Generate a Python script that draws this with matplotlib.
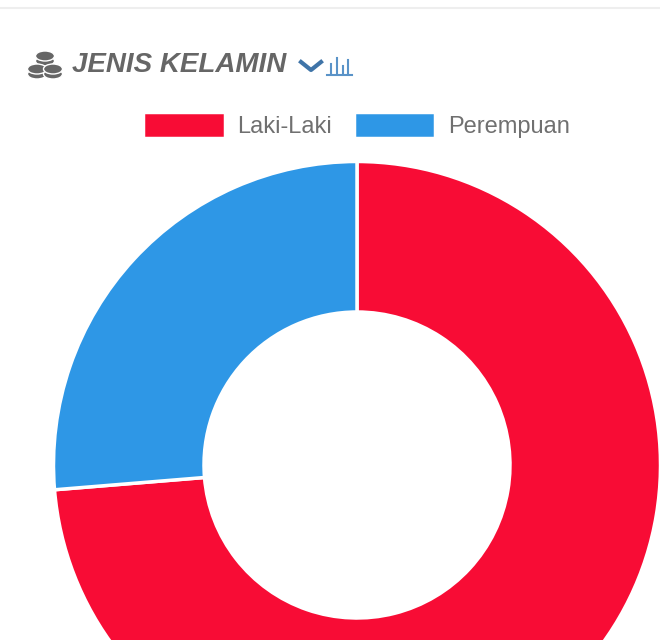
import matplotlib
matplotlib.use('Agg')
import matplotlib.pyplot as plt
from matplotlib.patches import Ellipse

labels = ['Laki-Laki', 'Perempuan']
values = [73.7, 26.3]
colors = ['#f80c35', '#2e97e6']
title = 'JENIS KELAMIN'

plt.rcParams['font.family'] = ['Liberation Sans', 'DejaVu Sans']

fig = plt.figure(figsize=(6.6, 6.4), dpi=100)
# axes cover the whole figure, units are pixels from the bottom left
ax = fig.add_axes([0, 0, 1, 1])
ax.set_xlim(0, 660)
ax.set_ylim(0, 640)
ax.set_aspect('equal')
ax.axis('off')

wedges, _ = ax.pie(
    values, colors=colors, startangle=90, counterclock=False,
    center=(357, 175), radius=303.5, frame=True,
    wedgeprops={'width': 150.5, 'edgecolor': 'white', 'linewidth': 2.5},
)
ax.set_xlim(0, 660)
ax.set_ylim(0, 640)
ax.axis('off')

ax.legend(
    wedges, labels, ncol=2, loc='center', bbox_to_anchor=(356.5 / 660, 515 / 640),
    frameon=False, fontsize=17, labelcolor='#707070',
    handlelength=3.45, handleheight=1.28, handletextpad=0.55, columnspacing=0.9,
    borderpad=0, borderaxespad=0,
)

ax.text(72, 575, title, fontsize=20, fontweight='bold', fontstyle='italic',
        color='#666666', va='center', ha='left')

# page rule at the top
ax.plot([0, 660], [632, 632], color='#eeeeee', linewidth=1.5)

# coins icon
for cx, cy in [(45, 584), (37, 571), (53, 571)]:
    for dy in (-5, 0):
        ax.add_patch(Ellipse((cx, cy + dy), 19, 10, facecolor='#666666',
                             edgecolor='white', linewidth=1))

# chevron and small bar chart icon
ax.plot([301, 311, 321], [578, 570, 578], color='#3f74a8', linewidth=3)
ax.plot([327, 352], [565, 565], color='#5a93c8', linewidth=1.5)
for x, top in [(331, 576), (337, 582), (343, 574), (348, 580)]:
    ax.plot([x, x], [566, top], color='#5a93c8', linewidth=1.5)

fig.savefig('out.png', dpi=100)
plt.close(fig)
